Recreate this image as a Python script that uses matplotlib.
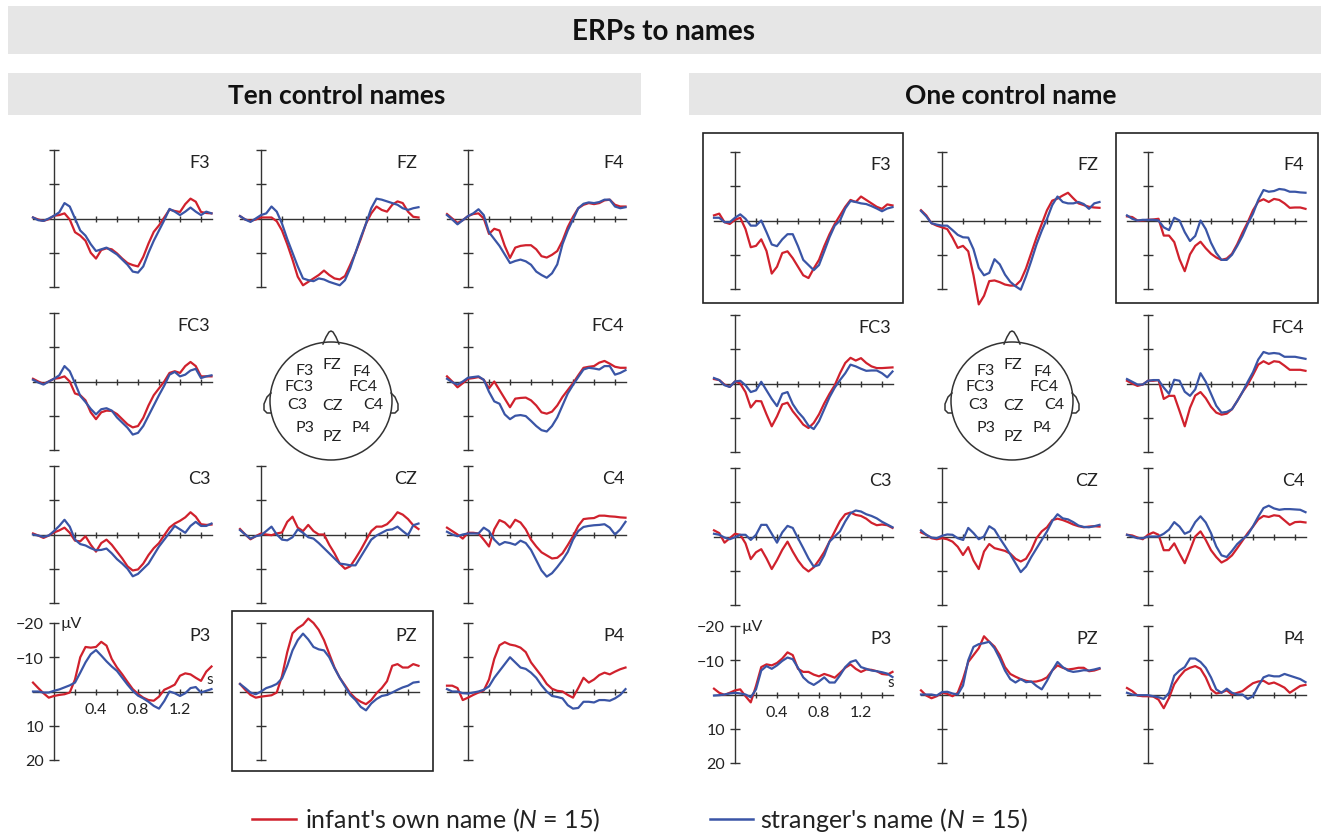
import matplotlib
matplotlib.use("Agg")

import matplotlib.pyplot as plt
from matplotlib.patches import Rectangle, Ellipse

plt.rcParams['font.family'] = ['Lato', 'DejaVu Sans']
plt.rcParams['mathtext.fontset'] = 'custom'
plt.rcParams['mathtext.rm'] = 'Lato'
plt.rcParams['mathtext.it'] = 'Lato:italic'

RED = '#d0212d'
BLUE = '#3a55a6'
AX = '#333333'

# sample times (s)
times = [-0.2, -0.15, -0.1, -0.05, 0.0, 0.05, 0.1, 0.15, 0.2, 0.25,
         0.3, 0.35, 0.4, 0.45, 0.5, 0.55, 0.6, 0.65, 0.7, 0.75,
         0.8, 0.85, 0.9, 0.95, 1.0, 1.05, 1.1, 1.15, 1.2, 1.25,
         1.3, 1.35, 1.4, 1.45, 1.5]

# ---- Ten control names (uV, negative up) ----
ten_f3_own = [-0.3, 0.3, 0.7, 0.2, -0.8, -1.0, -1.5, 0.3, 4.0, 5.0, 6.5, 10.0, 11.7, 9.2, 8.7, 9.0, 10.2, 11.7,
              13.0, 13.6, 14.0, 11.2, 7.3, 3.9, 2.0, -0.3, -2.6, -2.2, -1.9, -4.2, -5.8, -4.9, -1.9, -1.6, -1.5]
ten_f3_str = [-0.3, 0.5, 0.7, 0.0, -0.8, -1.8, -4.5, -3.5, 0.0, 3.5, 5.0, 7.5, 9.5, 9.0, 8.5, 9.5, 10.5, 12.0,
              13.5, 15.5, 15.8, 14.0, 10.0, 6.5, 3.5, 0.5, -2.8, -2.0, -1.0, -2.0, -3.2, -2.0, -1.0, -2.0, -1.5]
ten_fz_own = [-0.7, 0.3, 0.7, 0.3, -0.3, -0.3, -0.3, 0.8, 3.5, 7.5, 12.0, 17.0, 19.5, 18.5, 17.5, 16.5, 15.2, 16.5,
              17.5, 17.8, 16.8, 13.5, 10.0, 6.0, 1.5, -1.5, -3.5, -2.5, -2.0, -4.0, -5.0, -4.5, -2.0, -0.5, -0.3]
ten_fz_str = [-0.7, 0.3, 1.0, 0.0, -1.0, -1.5, -3.5, -2.0, 1.5, 6.0, 10.0, 14.0, 17.5, 18.0, 18.3, 17.5, 17.8, 18.5,
              19.0, 19.5, 18.0, 14.5, 10.0, 5.5, 1.5, -3.0, -5.8, -5.5, -5.0, -4.5, -4.0, -3.0, -2.5, -3.0, -3.3]
ten_f4_own = [-1.3, 0.0, 1.3, 0.5, -0.7, -1.3, -1.5, 0.0, 4.5, 3.0, 3.5, 8.0, 11.5, 8.5, 8.0, 7.8, 7.8, 9.0,
              11.0, 11.4, 10.6, 9.5, 6.5, 2.5, -0.5, -3.0, -4.0, -4.5, -4.2, -4.5, -5.3, -5.5, -4.0, -3.5, -3.5]
ten_f4_str = [-1.0, 0.3, 1.7, 0.5, -0.7, -1.5, -2.7, -1.0, 4.0, 6.0, 8.0, 10.5, 13.0, 12.4, 12.0, 12.5, 13.5, 15.5,
              16.5, 17.3, 16.0, 13.4, 7.5, 3.5, 0.3, -3.0, -4.3, -4.7, -4.5, -4.8, -5.5, -5.5, -3.5, -3.0, -3.3]
ten_fc3_own = [-0.8, 0.0, 0.7, 0.0, -0.8, -1.0, -1.5, 0.0, 3.5, 4.0, 5.5, 9.0, 11.0, 9.0, 8.5, 8.6, 9.5, 11.0,
               12.5, 13.4, 13.0, 10.6, 7.0, 4.0, 2.0, 0.0, -2.5, -3.0, -2.5, -4.5, -5.7, -4.5, -1.5, -1.5, -1.5]
ten_fc3_str = [-0.5, 0.3, 0.9, 0.0, -0.8, -1.8, -4.5, -3.0, 0.5, 4.2, 6.0, 8.0, 9.6, 8.1, 7.8, 8.5, 10.5, 12.0,
               13.5, 15.5, 15.0, 13.0, 10.0, 7.0, 4.0, 1.2, -2.0, -2.8, -1.5, -2.0, -3.2, -3.7, -1.0, -1.5, -1.8]
ten_fc4_own = [-1.5, 0.0, 1.7, 0.5, -0.8, -1.0, -1.3, -0.5, 2.0, 0.0, 2.5, 5.0, 7.5, 5.0, 4.8, 4.7, 5.5, 7.0,
               9.0, 9.4, 8.8, 7.0, 4.5, 2.5, 0.5, -1.8, -4.0, -4.3, -4.5, -5.5, -6.0, -5.2, -4.3, -4.0, -4.0]
ten_fc4_str = [-0.8, 0.2, 0.9, 0.0, -1.1, -1.3, -1.5, -0.5, 3.0, 5.8, 6.5, 9.6, 11.0, 10.0, 9.8, 10.1, 11.5, 13.0,
               14.2, 14.6, 13.0, 10.5, 7.0, 3.5, 1.0, -1.3, -3.5, -4.0, -3.8, -3.5, -4.5, -4.5, -2.0, -2.5, -3.3]
ten_c3_own = [-0.3, 0.3, 1.0, 0.3, -0.6, -1.2, -2.0, -0.5, 1.8, 2.0, 0.5, 3.0, 5.0, 2.5, 1.5, 3.0, 5.0, 7.0,
              9.3, 10.5, 10.2, 8.5, 6.0, 4.0, 2.5, 0.2, -2.0, -3.2, -4.0, -5.0, -6.5, -5.2, -3.0, -2.8, -2.9]
ten_c3_str = [0.0, 0.3, 0.7, 0.3, -1.0, -2.5, -4.3, -2.3, 1.5, 2.8, 3.2, 4.0, 4.6, 4.5, 4.1, 5.5, 7.2, 8.5,
              10.0, 12.2, 11.5, 10.0, 8.5, 6.0, 3.5, 1.5, -0.5, -2.5, -1.5, -0.5, -2.5, -3.7, -2.5, -2.5, -3.2]
ten_cz_own = [-1.6, 0.0, 1.4, 0.5, -0.3, 0.0, 0.2, -0.3, -0.6, -3.7, -5.2, -2.0, -1.0, -2.8, -1.0, 0.0, 0.0, 3.0,
              5.5, 8.5, 10.0, 9.3, 7.0, 4.5, 1.7, -1.0, -2.3, -2.3, -3.0, -4.5, -6.5, -5.8, -4.5, -2.7, -1.6]
ten_cz_str = [-1.3, 0.0, 1.2, 0.5, 0.2, -1.0, -2.3, 0.0, 1.5, 1.7, 0.8, -1.5, -0.5, 0.8, 1.2, 2.5, 4.0, 5.5,
              7.0, 8.5, 8.7, 9.0, 9.0, 6.5, 4.0, 1.5, 0.3, -0.5, -1.3, -1.5, -2.3, -1.0, 0.2, -2.7, -3.2]
ten_c4_own = [-2.0, -1.0, 0.0, 1.2, -0.5, -0.5, -0.3, 1.5, 3.5, -1.5, -4.2, -3.5, -2.0, -4.3, -3.5, -1.5, 1.5, 3.5,
              5.2, 6.1, 7.0, 6.8, 5.5, 3.1, 0.5, -2.5, -4.5, -4.7, -4.8, -5.5, -5.5, -5.3, -5.2, -5.0, -4.9]
ten_c4_str = [-0.8, 0.0, 0.5, 0.0, -0.3, -0.3, -0.3, -2.0, -1.0, 1.5, 3.0, 2.2, 2.5, 3.0, 1.8, 2.5, 4.5, 7.5,
              10.5, 12.3, 11.3, 9.5, 7.5, 5.1, 1.5, -1.0, -2.2, -2.5, -2.7, -2.8, -3.0, -2.0, 0.0, -1.5, -3.7]
ten_p3_own = [-2.6, -1.0, 0.5, 1.8, 1.3, 1.0, 0.8, 0.3, -3.5, -10.0, -13.0, -12.8, -13.0, -14.5, -13.4, -9.5, -7.0, -5.0,
              -2.8, -0.7, 0.7, 1.8, 2.5, 2.7, 1.5, -0.5, -1.2, -2.0, -4.6, -5.3, -5.0, -4.0, -3.1, -5.8, -7.3]
ten_p3_str = [0.0, 0.0, 0.3, 0.3, -0.2, -0.6, -1.2, -1.8, -2.6, -5.5, -8.5, -10.9, -12.1, -10.5, -8.8, -7.3, -6.0, -4.0,
              -2.0, -0.2, 1.2, 2.0, 3.0, 4.2, 5.0, 2.8, 0.0, 0.5, 1.3, 0.5, -1.0, -1.3, 0.3, -0.2, -0.7]
ten_pz_own = [-2.2, -0.5, 1.0, 1.8, 1.5, 1.3, 1.1, 0.3, -4.5, -11.5, -17.0, -18.5, -19.5, -21.3, -20.0, -18.0, -15.0, -11.0,
              -7.0, -4.0, -1.8, 0.5, 2.0, 3.0, 3.7, 2.5, 0.5, -1.0, -3.0, -7.5, -8.0, -7.0, -7.0, -8.0, -7.5]
ten_pz_str = [-2.2, -1.0, 0.3, 0.8, 0.0, -1.0, -1.5, -2.2, -3.8, -7.5, -12.0, -15.0, -16.9, -15.2, -13.0, -12.3, -12.0, -10.0,
              -6.8, -4.0, -1.5, 1.0, 2.5, 4.5, 5.5, 3.5, 2.2, 1.3, 1.0, 0.3, -0.5, -1.2, -1.7, -2.6, -2.8]
ten_p4_own = [-1.7, -1.7, -1.0, 2.5, 1.8, 1.0, 0.3, -0.3, -3.5, -9.5, -13.5, -14.4, -13.7, -13.4, -12.8, -11.5, -8.5, -6.5,
              -4.5, -2.2, -0.8, -0.2, 0.0, 1.0, 1.8, -1.0, -4.0, -2.6, -3.5, -4.8, -5.5, -5.0, -5.8, -6.5, -7.0]
ten_p4_str = [-0.7, 0.0, 0.0, 0.5, 0.6, 0.3, 0.0, -0.5, -1.5, -4.0, -6.0, -8.0, -10.0, -8.5, -7.0, -6.6, -5.5, -4.0,
              -1.8, 0.0, 1.3, 1.6, 2.0, 4.0, 5.0, 4.8, 3.0, 3.0, 3.2, 2.5, 2.5, 2.7, 2.0, 1.0, -0.7]

# ---- One control name ----
one_f3_own = [-1.5, -2.0, 0.5, 1.0, -0.2, -0.8, 2.5, 7.8, 7.4, 5.5, 8.9, 15.5, 13.5, 9.5, 9.0, 11.0, 13.5, 16.0,
              16.8, 14.0, 11.5, 7.5, 4.0, 1.0, -1.5, -4.0, -6.0, -5.4, -7.0, -6.0, -5.0, -4.0, -3.4, -4.7, -4.4]
one_f3_str = [-0.8, -0.8, 0.5, 0.5, -0.8, -1.8, -0.5, 1.5, 1.5, 0.0, 3.4, 7.0, 7.5, 5.5, 4.0, 4.0, 7.5, 11.5,
              13.0, 14.5, 13.0, 9.0, 4.9, 1.5, 0.0, -3.5, -5.7, -5.4, -5.0, -4.8, -4.2, -3.5, -2.7, -3.5, -3.9]
one_fz_own = [-3.0, -1.5, 0.8, 1.5, 2.0, 2.5, 5.0, 8.0, 7.4, 9.0, 16.0, 24.5, 22.0, 17.7, 17.5, 18.0, 18.7, 19.0,
              19.0, 17.5, 14.0, 9.5, 5.0, 1.0, -3.0, -5.8, -6.4, -7.3, -8.1, -6.5, -5.0, -4.5, -4.0, -3.8, -3.7]
one_fz_str = [-2.8, -1.2, 0.8, 1.2, 1.5, 1.5, 2.8, 4.2, 4.9, 5.0, 8.4, 13.8, 16.0, 15.3, 11.3, 12.8, 15.8, 17.9,
              19.2, 20.2, 16.3, 11.8, 7.0, 3.0, -0.5, -4.5, -7.0, -5.4, -5.0, -5.0, -5.4, -4.8, -3.4, -5.0, -5.4]
one_f4_own = [-1.2, -1.0, 0.0, 0.0, -0.2, -0.3, -0.5, 4.4, 4.4, 6.3, 11.3, 14.8, 9.9, 7.4, 6.2, 8.1, 9.7, 10.8,
              11.5, 11.1, 9.7, 6.9, 3.5, 0.5, -3.0, -5.5, -6.2, -5.4, -6.3, -6.0, -5.0, -3.7, -3.8, -3.8, -3.4]
one_f4_str = [-1.5, -0.5, 0.0, -0.2, -0.2, -0.2, 0.0, 2.0, 2.8, -0.8, 0.0, 3.4, 6.0, 4.5, 0.0, 2.5, 6.5, 9.5,
              11.5, 11.5, 10.0, 7.4, 4.5, 1.0, -2.0, -6.0, -8.9, -8.4, -8.6, -9.2, -9.0, -8.4, -8.4, -8.2, -8.1]
one_fc3_own = [-1.3, -1.0, 0.3, 1.0, -0.6, 0.0, 2.5, 7.0, 5.1, 5.2, 9.0, 12.5, 9.6, 6.1, 5.6, 8.1, 10.0, 12.0,
               13.0, 11.5, 9.0, 5.8, 3.0, 0.5, -3.0, -6.0, -7.5, -6.7, -7.4, -6.0, -5.0, -4.5, -4.5, -4.6, -4.7]
one_fc3_str = [-1.6, -1.0, 0.5, 1.0, -0.6, -0.8, 0.5, 2.5, 2.0, -0.5, 2.0, 4.5, 6.6, 3.0, 2.5, 6.0, 8.3, 10.0,
               12.3, 13.3, 11.0, 7.5, 4.0, 1.2, -1.0, -3.0, -5.5, -5.0, -4.3, -3.7, -3.8, -3.8, -3.0, -1.8, -3.5]
one_fc4_own = [-0.8, 0.0, 0.7, 0.3, -0.8, -0.8, -1.0, 4.5, 3.6, 3.6, 8.0, 12.5, 7.1, 3.5, 2.5, 4.3, 6.8, 8.5,
               9.1, 8.8, 7.5, 5.1, 2.5, 0.3, -2.5, -5.5, -6.5, -5.7, -6.5, -6.3, -5.2, -4.0, -4.0, -4.0, -3.7]
one_fc4_str = [-1.3, -0.5, 0.3, 0.3, -0.8, -1.0, -1.0, 1.2, 3.0, -1.1, -0.8, 2.4, 3.6, 1.7, -3.0, -0.5, 3.0, 6.5,
               8.5, 8.3, 7.5, 5.1, 2.5, -0.5, -3.3, -7.0, -9.2, -8.7, -8.9, -8.7, -7.8, -7.8, -7.8, -7.5, -7.2]
one_c3_own = [-1.8, -1.0, 1.8, 0.5, -0.8, -0.5, 2.0, 6.6, 4.6, 3.7, 6.4, 9.5, 6.9, 3.9, 1.5, 4.4, 7.0, 9.0,
              10.2, 9.0, 6.9, 4.5, 1.5, -1.5, -4.5, -6.5, -7.0, -6.3, -6.0, -5.2, -4.0, -3.3, -3.5, -3.3, -2.5]
one_c3_str = [-0.8, -0.5, 0.3, 0.8, 0.2, -0.5, -0.5, 1.0, -0.5, -3.4, -3.4, -0.8, 1.8, -1.2, -3.1, -2.5, 0.5, 3.4,
              6.4, 8.8, 8.3, 5.5, 1.5, 0.0, -1.5, -4.4, -6.8, -7.6, -7.3, -6.5, -6.0, -5.3, -4.3, -3.5, -2.7]
one_cz_own = [-1.2, -0.5, 0.5, 0.8, 0.5, 0.8, 1.5, 3.0, 5.4, 3.1, 7.0, 9.5, 4.4, 2.2, 3.4, 3.8, 4.2, 5.0,
              6.5, 7.3, 6.5, 4.0, 0.5, -1.5, -2.7, -4.8, -5.2, -4.8, -4.2, -3.5, -3.0, -2.7, -2.9, -3.0, -2.9]
one_cz_str = [-1.8, -0.5, 0.3, 0.5, -0.2, -0.6, -0.5, 0.5, 1.0, -2.5, -1.0, 0.8, 0.0, -3.0, -2.0, 0.5, 2.8, 5.2,
              7.8, 10.4, 8.8, 6.0, 3.5, 1.0, -1.5, -4.5, -6.5, -5.3, -5.0, -4.2, -3.2, -2.8, -2.7, -3.0, -3.4]
one_c4_own = [-0.5, -0.3, 0.3, 0.8, -0.5, -1.2, -0.5, 4.0, 4.0, 2.0, 5.0, 7.8, 4.0, 0.0, -1.5, 1.0, 4.0, 6.0,
              7.6, 6.8, 5.5, 3.4, 1.2, -1.0, -2.9, -5.0, -6.0, -5.7, -6.2, -6.0, -4.7, -3.4, -4.2, -4.3, -4.1]
one_c4_str = [-0.5, 0.0, 0.5, 0.5, 0.0, 0.0, 0.0, -0.8, -2.0, -4.2, -2.9, -0.8, -1.5, -4.2, -5.9, -4.1, -1.0, 2.9,
              5.5, 6.0, 4.2, 2.2, 0.8, -0.5, -3.0, -5.8, -8.3, -9.0, -8.2, -7.8, -8.0, -8.0, -7.9, -7.8, -7.1]
one_p3_own = [-1.7, -0.5, 0.1, -0.5, -1.2, -1.5, 0.5, 2.3, -2.5, -8.0, -8.8, -8.5, -9.2, -10.5, -12.3, -11.5, -7.5, -6.6,
              -6.6, -5.8, -5.3, -6.0, -5.5, -4.9, -6.3, -7.8, -8.8, -7.5, -6.6, -7.3, -7.2, -6.8, -6.0, -5.8, -6.6]
one_p3_str = [0.3, 0.2, 0.0, -0.3, -0.5, -0.3, 0.0, 0.8, -1.5, -7.0, -8.3, -7.5, -8.5, -9.8, -10.8, -10.3, -7.8, -5.0,
              -3.6, -2.8, -3.8, -5.0, -3.5, -3.5, -5.6, -8.0, -9.5, -10.0, -8.0, -7.5, -7.0, -6.8, -6.5, -6.1, -5.1]
one_pz_own = [-1.2, 0.3, 1.1, 0.5, -0.5, -0.2, 0.5, -0.5, -4.5, -9.5, -11.5, -13.5, -17.0, -15.4, -14.0, -11.5, -8.0, -6.0,
              -5.2, -4.5, -4.0, -3.7, -3.8, -4.2, -5.0, -7.0, -8.5, -7.8, -7.3, -7.5, -7.8, -7.8, -6.8, -7.0, -7.5]
one_pz_str = [0.0, 0.0, 0.0, 0.3, -0.7, -0.8, -0.3, 0.0, -2.6, -10.0, -13.9, -14.7, -15.0, -15.4, -13.5, -10.5, -7.0, -4.5,
              -3.5, -4.5, -3.6, -3.8, -2.5, -1.5, -4.0, -7.0, -9.5, -8.0, -7.0, -6.6, -6.8, -7.1, -7.0, -7.3, -7.7]
one_p4_own = [-1.9, -1.0, 0.3, 0.5, 0.5, 0.6, 1.5, 4.0, 1.0, -3.0, -5.2, -7.0, -7.8, -8.3, -7.5, -5.0, -1.5, -0.3,
              -0.6, -1.2, 0.0, -0.5, -1.0, -2.2, -3.3, -3.8, -4.0, -3.1, -3.5, -2.8, -2.0, -0.5, -1.5, -2.5, -2.8]
one_p4_str = [-0.5, 0.0, 0.2, 0.2, 0.2, 0.5, 0.8, 1.3, -0.5, -5.5, -7.0, -8.0, -10.5, -10.5, -9.5, -7.8, -5.0, -1.5,
              -0.5, -1.7, -0.5, 0.0, 0.0, 1.3, 0.5, -2.5, -5.0, -5.6, -5.3, -5.3, -6.0, -5.5, -5.0, -4.5, -3.6]

grid = [['F3', 'FZ', 'F4'], ['FC3', None, 'FC4'], ['C3', 'CZ', 'C4'], ['P3', 'PZ', 'P4']]

ten = {
    'F3': (ten_f3_own, ten_f3_str), 'FZ': (ten_fz_own, ten_fz_str), 'F4': (ten_f4_own, ten_f4_str),
    'FC3': (ten_fc3_own, ten_fc3_str), 'FC4': (ten_fc4_own, ten_fc4_str),
    'C3': (ten_c3_own, ten_c3_str), 'CZ': (ten_cz_own, ten_cz_str), 'C4': (ten_c4_own, ten_c4_str),
    'P3': (ten_p3_own, ten_p3_str), 'PZ': (ten_pz_own, ten_pz_str), 'P4': (ten_p4_own, ten_p4_str),
}
one = {
    'F3': (one_f3_own, one_f3_str), 'FZ': (one_fz_own, one_fz_str), 'F4': (one_f4_own, one_f4_str),
    'FC3': (one_fc3_own, one_fc3_str), 'FC4': (one_fc4_own, one_fc4_str),
    'C3': (one_c3_own, one_c3_str), 'CZ': (one_cz_own, one_cz_str), 'C4': (one_c4_own, one_c4_str),
    'P3': (one_p3_own, one_p3_str), 'PZ': (one_pz_own, one_pz_str), 'P4': (one_p4_own, one_p4_str),
}

W, H = 1321, 837
fig = plt.figure(figsize=(W / 100, H / 100), dpi=100)

# overlay in pixel units for bars, boxes, head and legend
ov = fig.add_axes([0, 0, 1, 1])
ov.set_xlim(0, W)
ov.set_ylim(H, 0)
ov.axis('off')


def px_axes(left, top, width, height):
    return fig.add_axes([left / W, 1 - (top + height) / H, width / W, height / H])


def erp_panel(x0, top, name, own, stranger, labels=False):
    ax = px_axes(x0 - 21, top, 178.5, 137)
    ax.plot(times, own, color=RED, lw=1.6, clip_on=False, zorder=3)
    ax.plot(times, stranger, color=BLUE, lw=1.6, clip_on=False, zorder=3)
    ax.set_xlim(-0.2, 1.5)
    ax.set_ylim(20, -20)
    ax.patch.set_alpha(0)
    ax.spines['top'].set_visible(False)
    ax.spines['right'].set_visible(False)
    ax.spines['left'].set_position(('data', 0))
    ax.spines['bottom'].set_position(('data', 0))
    for s in ['left', 'bottom']:
        ax.spines[s].set_color(AX)
        ax.spines[s].set_linewidth(1.0)
    ax.set_yticks([-20, -10, 10, 20])
    ax.set_xticks([0.2, 0.4, 0.6, 0.8, 1.0, 1.2, 1.4])
    ax.tick_params(axis='y', direction='inout', length=6.5, width=1.0, color=AX,
                   labelsize=11.5, pad=4, labelcolor='#222222')
    ax.tick_params(axis='x', direction='inout', length=4.5, width=1.0, color=AX,
                   labelsize=11.5, pad=5, labelcolor='#222222')
    if labels:
        ax.set_yticklabels(['\u221220', '\u221210', '10', '20'])
        ax.set_xticklabels(['', '0.4', '', '0.8', '', '1.2', ''])
        ax.text(0.06, -20, '\u00b5V', ha='left', va='center', fontsize=11.5, color='#222222')
        ax.text(1.48, -3.6, 's', ha='center', va='center', fontsize=11, color='#222222')
    else:
        ax.set_yticklabels([])
        ax.set_xticklabels([])
    ax.text(1.49, -16.5, name, ha='right', va='center', fontsize=13, color='#222222')
    return ax


head_labels = [('FZ', 1, 365), ('F3', -26, 371), ('F4', 31, 372), ('FC3', -32, 387), ('FC4', 32, 387),
               ('C3', -34, 405), ('CZ', 1, 406), ('C4', 42, 405), ('P3', -26, 428), ('PZ', 1, 437),
               ('P4', 30, 428)]


def draw_head(cx, cy=402):
    ov.add_patch(Ellipse((cx, cy), 122, 118, fill=False, ec=AX, lw=1.1))
    ov.plot([cx - 8, cx - 5, cx - 2, cx, cx + 2, cx + 5, cx + 8],
            [cy - 57, cy - 64, cy - 69, cy - 70, cy - 69, cy - 64, cy - 57], color=AX, lw=1.1)
    for side in (-1, 1):
        ex = cx + side * 60
        ov.plot([ex, ex + side * 4, ex + side * 7, ex + side * 7, ex + side * 4, ex],
                [cy - 8, cy - 4, cy + 3, cy + 9, cy + 12, cy + 12], color=AX, lw=1.1)
    for lab, dx, y in head_labels:
        ov.text(cx + dx, y, lab, ha='center', va='center', fontsize=11.5, color='#222222')


groups = [
    (ten, [54, 261, 468], [151, 314, 467, 624], 331),
    (one, [735, 942, 1148], [153, 316, 469, 627], 1012),
]

for data, cols, rows, head_x in groups:
    for r, row in enumerate(grid):
        for c, name in enumerate(row):
            if name is None:
                continue
            own, stranger = data[name]
            erp_panel(cols[c], rows[r], name, own, stranger, labels=(name == 'P3'))
    draw_head(head_x)

# header bars
ov.add_patch(Rectangle((8, 7), 1313, 48, fc='#e6e6e6', ec='none'))
ov.add_patch(Rectangle((8, 74), 633, 42, fc='#e6e6e6', ec='none'))
ov.add_patch(Rectangle((689, 74), 632, 42, fc='#e6e6e6', ec='none'))
ov.text(664, 32, 'ERPs to names', ha='center', va='center', fontsize=20, fontweight='bold', color='#111111')
ov.text(337, 96, 'Ten control names', ha='center', va='center', fontsize=19, fontweight='bold', color='#111111')
ov.text(1011, 96, 'One control name', ha='center', va='center', fontsize=19, fontweight='bold', color='#111111')

# highlight boxes
for x, y, w, h in [(232, 612, 201, 160), (703, 134, 200, 170), (1116, 134, 202, 170)]:
    ov.add_patch(Rectangle((x, y), w, h, fill=False, ec='#222222', lw=1.2))

# legend
ov.plot([252, 296], [820, 820], color=RED, lw=1.8)
ov.text(305, 820, "infant's own name ($N$ = 15)", ha='left', va='center', fontsize=18, color='#222222')
ov.plot([710, 753], [820, 820], color=BLUE, lw=1.8)
ov.text(760, 820, "stranger's name ($N$ = 15)", ha='left', va='center', fontsize=18, color='#222222')

fig.savefig("out.png", dpi=100)
